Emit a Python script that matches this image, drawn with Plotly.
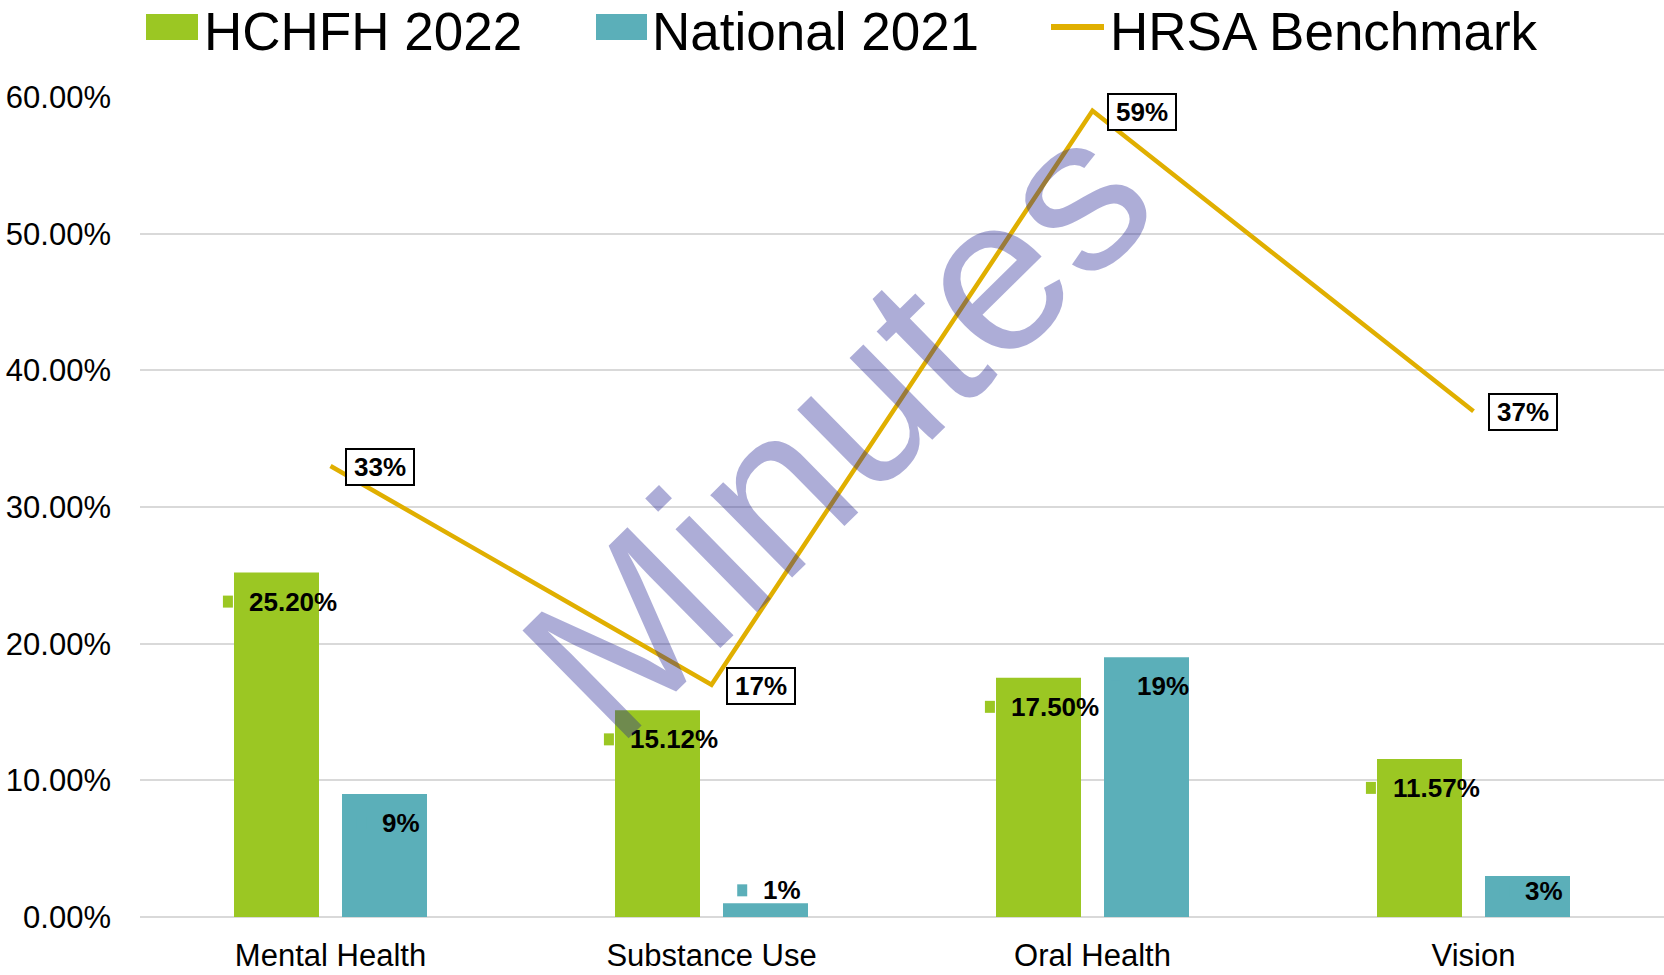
import plotly.graph_objects as go

# ---------------- data ----------------
categories = ["Mental Health", "Substance Use", "Oral Health", "Vision"]
hchfh_2022 = [25.20, 15.12, 17.50, 11.57]
national_2021 = [9, 1, 19, 3]
hrsa_benchmark = [33, 17, 59, 37]
hchfh_labels = ["25.20%", "15.12%", "17.50%", "11.57%"]
national_labels = ["9%", "1%", "19%", "3%"]
benchmark_labels = ["33%", "17%", "59%", "37%"]
y_tick_values = [0, 10, 20, 30, 40, 50, 60]
y_tick_labels = ["0.00%", "10.00%", "20.00%", "30.00%", "40.00%", "50.00%", "60.00%"]
series_names = ["HCHFH 2022", "National 2021", "HRSA Benchmark"]
watermark_text = "Minutes"

# ---------------- style ----------------
W, H = 1664, 975
ML, MR, MT, MB = 140, 0, 97, 58
PW, PH = W - ML - MR, H - MT - MB
N = len(categories)
CAT_PX = PW / N
BAR_PX = 85
BAR_OFF_PX = 54
GREEN = "#9BC723"
TEAL = "#5BAFB9"
GOLD = "#E0AF00"
GRID = "#D9D9D9"
FONT = "Arial, Liberation Sans, sans-serif"
LABEL_SIZE = 26
YMAX = 60
PX_PER_UNIT = PH / YMAX


def px_x(p):
    return (p - ML) / PW


def px_y(p):
    return (H - MB - p) / PH


def text_w(s, size=LABEL_SIZE):
    widths = {".": 0.278, "%": 0.889}
    return sum(widths.get(c, 0.556) for c in s) * size


def label_dy(v):
    bar_px = v * PX_PER_UNIT
    if bar_px - 26 >= 29:
        return -29
    if bar_px >= 30:
        return -(bar_px - 26)
    return 13


xs = list(range(N))
fig = go.Figure()

bar_width = BAR_PX / CAT_PX
fig.add_trace(go.Bar(
    x=xs, y=hchfh_2022, name=series_names[0], marker=dict(color=GREEN, line=dict(width=0)),
    width=bar_width, offset=(-BAR_OFF_PX - BAR_PX / 2) / CAT_PX, showlegend=False,
    hoverinfo="skip"))
fig.add_trace(go.Bar(
    x=xs, y=national_2021, name=series_names[1], marker=dict(color=TEAL, line=dict(width=0)),
    width=bar_width, offset=(BAR_OFF_PX - BAR_PX / 2) / CAT_PX, showlegend=False,
    hoverinfo="skip"))
fig.add_trace(go.Scatter(
    x=xs, y=hrsa_benchmark, name=series_names[2], mode="lines",
    line=dict(color=GOLD, width=4.5), showlegend=False, hoverinfo="skip"))

annotations = []
shapes = []

# bar data labels with legend keys
for vals, labels, color, side in [(hchfh_2022, hchfh_labels, GREEN, -1),
                                  (national_2021, national_labels, TEAL, 1)]:
    for i, (v, lab) in enumerate(zip(vals, labels)):
        bc = side * BAR_OFF_PX
        w = text_w(lab)
        dy = label_dy(v)
        annotations.append(dict(
            x=i, y=v, xref="x", yref="y", text=lab, showarrow=False,
            xanchor="center", yanchor="middle", xshift=bc + 16.5, yshift=dy,
            font=dict(family=FONT, size=LABEL_SIZE, color="black", weight=700)))
        kc = bc - (27 + w) / 2 + 9
        shapes.append(dict(
            type="rect", xref="x", yref="y", xsizemode="pixel", ysizemode="pixel",
            xanchor=i, yanchor=v, x0=kc - 5, x1=kc + 5, y0=dy - 6, y1=dy + 6,
            fillcolor=color, line=dict(width=0), layer="above"))

# benchmark labels (boxed)
for i, (v, lab) in enumerate(zip(hrsa_benchmark, benchmark_labels)):
    annotations.append(dict(
        x=i, y=v, xref="x", yref="y", text=lab, showarrow=False,
        xanchor="center", yanchor="middle", xshift=49, yshift=-1,
        width=60, height=28, borderpad=3, borderwidth=2, bordercolor="black",
        bgcolor="white",
        font=dict(family=FONT, size=LABEL_SIZE, color="black", weight=700)))

# manual legend
LEG_Y = 27
shapes.append(dict(type="rect", xref="paper", yref="paper",
                   x0=px_x(146), x1=px_x(198), y0=px_y(LEG_Y + 13), y1=px_y(LEG_Y - 13),
                   fillcolor=GREEN, line=dict(width=0)))
shapes.append(dict(type="rect", xref="paper", yref="paper",
                   x0=px_x(596), x1=px_x(647), y0=px_y(LEG_Y + 13), y1=px_y(LEG_Y - 13),
                   fillcolor=TEAL, line=dict(width=0)))
shapes.append(dict(type="line", xref="paper", yref="paper",
                   x0=px_x(1051), x1=px_x(1104), y0=px_y(LEG_Y), y1=px_y(LEG_Y),
                   line=dict(color=GOLD, width=6)))
for name, xp in zip(series_names, [202, 650, 1108]):
    annotations.append(dict(
        x=px_x(xp), y=px_y(0), xref="paper", yref="paper", text=name,
        showarrow=False, xanchor="left", yanchor="top",
        font=dict(family=FONT, size=53, color="black")))

# watermark
annotations.append(dict(
    x=px_x(837), y=px_y(427), xref="paper", yref="paper", text=watermark_text,
    showarrow=False, xanchor="center", yanchor="middle", textangle=-44.5,
    font=dict(family=FONT, size=220, color="rgba(40,40,150,0.38)")))

fig.update_layout(
    width=W, height=H,
    margin=dict(l=ML, r=MR, t=MT, b=MB, pad=0),
    paper_bgcolor="white", plot_bgcolor="white",
    showlegend=False,
    barmode="overlay",
    annotations=annotations,
    shapes=shapes,
    xaxis=dict(range=[-0.5, N - 0.5], tickvals=xs, ticktext=categories,
               showgrid=False, zeroline=False, showline=False, ticks="",
               tickfont=dict(family=FONT, size=31, color="black"),
               ticklabelstandoff=17, fixedrange=True),
    yaxis=dict(range=[0, YMAX], tickvals=y_tick_values, ticktext=y_tick_labels,
               showgrid=True, gridcolor=GRID, gridwidth=2,
               zeroline=True, zerolinecolor=GRID, zerolinewidth=2,
               showline=False, ticks="",
               tickfont=dict(family=FONT, size=31, color="black"),
               ticklabelstandoff=28, fixedrange=True),
)

fig.write_html("out.html", config={"displayModeBar": False},
               post_script="document.body.style.margin='0';")
